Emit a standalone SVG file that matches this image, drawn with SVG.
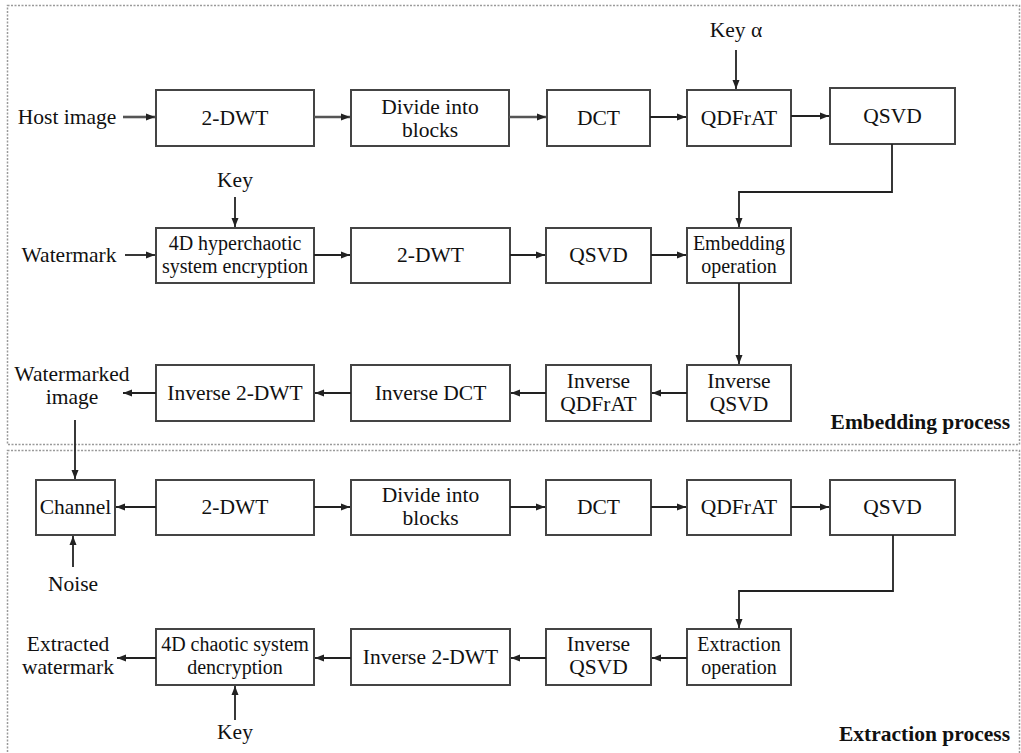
<svg xmlns="http://www.w3.org/2000/svg" width="1021" height="753" viewBox="0 0 1021 753">
<style>
.frame{fill:none;stroke:#9a9a9a;stroke-width:1.5;stroke-dasharray:2 1.5}
.box rect{fill:#fff;stroke:#444;stroke-width:2}
text{font-family:'Liberation Serif','Times New Roman','DejaVu Serif',serif;font-size:21.5px;fill:#111;text-anchor:middle}
.sm{font-size:20px}
.title{font-weight:bold;text-anchor:end}
.conn path{fill:none;stroke:#222;stroke-width:1.8}
.conn path.g{stroke:#555;stroke-width:2.6}
</style>
<defs>
<marker id="ah" markerUnits="userSpaceOnUse" markerWidth="9" markerHeight="8" refX="9" refY="4" orient="auto">
<path d="M0,0.5 L9,4 L0,7.5 z" fill="#222"/>
</marker>
</defs>
<rect class="frame" x="7.5" y="5.5" width="1012" height="439"/>
<rect class="frame" x="7.5" y="450.5" width="1012" height="320"/>

<g id="labels">
<text x="67" y="124">Host image</text>
<text x="69" y="262">Watermark</text>
<text x="736" y="37">Key α</text>
<text x="235" y="187">Key</text>
<text x="72" y="381">Watermarked</text>
<text x="72" y="404">image</text>
<text x="73" y="591">Noise</text>
<text x="68" y="651">Extracted</text>
<text x="68" y="674">watermark</text>
<text x="235" y="739">Key</text>
<text class="title" x="1010" y="429">Embedding process</text>
<text class="title" x="1010" y="741">Extraction process</text>
</g>

<g id="e-dwt" class="box"><rect x="156" y="90" width="158" height="56"/><text x="235" y="125">2-DWT</text></g>
<g id="e-divide" class="box"><rect x="351" y="90" width="158" height="56"/><text x="430" y="114">Divide into</text><text x="430" y="137">blocks</text></g>
<g id="e-dct" class="box"><rect x="547" y="90" width="103" height="56"/><text x="598.5" y="125">DCT</text></g>
<g id="e-qdfrat" class="box"><rect x="687" y="90" width="104" height="56"/><text x="739" y="125">QDFrAT</text></g>
<g id="e-qsvd" class="box"><rect x="830" y="88" width="125" height="56"/><text x="892.5" y="123">QSVD</text></g>

<g id="e-encrypt" class="box"><rect x="156" y="228" width="158" height="55"/><text class="sm" x="235" y="250">4D hyperchaotic</text><text class="sm" x="235" y="273">system encryption</text></g>
<g id="e-dwt2" class="box"><rect x="351" y="228" width="159" height="55"/><text x="430.5" y="262">2-DWT</text></g>
<g id="e-qsvd2" class="box"><rect x="546" y="228" width="105" height="55"/><text x="598.5" y="262">QSVD</text></g>
<g id="e-embed" class="box"><rect x="687" y="228" width="104" height="55"/><text class="sm" x="739" y="250">Embedding</text><text class="sm" x="739" y="273">operation</text></g>

<g id="e-idwt" class="box"><rect x="156" y="365" width="158" height="56"/><text x="235" y="400">Inverse 2-DWT</text></g>
<g id="e-idct" class="box"><rect x="351" y="365" width="159" height="56"/><text x="430.5" y="400">Inverse DCT</text></g>
<g id="e-iqdfrat" class="box"><rect x="546" y="365" width="105" height="56"/><text x="598.5" y="388">Inverse</text><text x="598.5" y="411">QDFrAT</text></g>
<g id="e-iqsvd" class="box"><rect x="687" y="365" width="104" height="56"/><text x="739" y="388">Inverse</text><text x="739" y="411">QSVD</text></g>

<g id="x-channel" class="box"><rect x="36" y="480" width="79" height="55"/><text x="75.5" y="514">Channel</text></g>
<g id="x-dwt" class="box"><rect x="156" y="480" width="158" height="55"/><text x="235" y="514">2-DWT</text></g>
<g id="x-divide" class="box"><rect x="351" y="480" width="159" height="55"/><text x="430.5" y="502">Divide into</text><text x="430.5" y="525">blocks</text></g>
<g id="x-dct" class="box"><rect x="546" y="480" width="105" height="55"/><text x="598.5" y="514">DCT</text></g>
<g id="x-qdfrat" class="box"><rect x="687" y="480" width="104" height="55"/><text x="739" y="514">QDFrAT</text></g>
<g id="x-qsvd" class="box"><rect x="830" y="480" width="125" height="55"/><text x="892.5" y="514">QSVD</text></g>

<g id="x-decrypt" class="box"><rect x="156" y="629" width="158" height="56"/><text class="sm" x="235" y="651">4D chaotic system</text><text class="sm" x="235" y="674">dencryption</text></g>
<g id="x-idwt" class="box"><rect x="351" y="629" width="159" height="56"/><text x="430.5" y="664">Inverse 2-DWT</text></g>
<g id="x-iqsvd" class="box"><rect x="546" y="629" width="105" height="56"/><text x="598.5" y="651">Inverse</text><text x="598.5" y="674">QSVD</text></g>
<g id="x-extract" class="box"><rect x="687" y="629" width="104" height="56"/><text class="sm" x="739" y="651">Extraction</text><text class="sm" x="739" y="674">operation</text></g>

<g id="connectors" class="conn">
<path class="g" d="M123,117 H155" marker-end="url(#ah)"/>
<path class="g" d="M314,117 H350" marker-end="url(#ah)"/>
<path class="g" d="M509,117 H546" marker-end="url(#ah)"/>
<path d="M650,117 H686" marker-end="url(#ah)"/>
<path d="M791,116 H829" marker-end="url(#ah)"/>
<path d="M736,50 V89" marker-end="url(#ah)"/>
<path d="M892,144 V192 H739 V227" marker-end="url(#ah)"/>

<path d="M125,255 H155" marker-end="url(#ah)"/>
<path d="M235,197 V227" marker-end="url(#ah)"/>
<path d="M314,255 H350" marker-end="url(#ah)"/>
<path d="M510,255 H545" marker-end="url(#ah)"/>
<path d="M651,255 H686" marker-end="url(#ah)"/>
<path d="M739,283 V364" marker-end="url(#ah)"/>

<path d="M687,393 H652" marker-end="url(#ah)"/>
<path d="M546,393 H511" marker-end="url(#ah)"/>
<path d="M351,393 H315" marker-end="url(#ah)"/>
<path d="M156,393 H123" marker-end="url(#ah)"/>
<path d="M75,420 V479" marker-end="url(#ah)"/>

<path d="M156,507 H116" marker-end="url(#ah)"/>
<path d="M73,567 V536" marker-end="url(#ah)"/>
<path d="M314,507 H350" marker-end="url(#ah)"/>
<path d="M510,507 H545" marker-end="url(#ah)"/>
<path d="M651,507 H686" marker-end="url(#ah)"/>
<path d="M791,507 H829" marker-end="url(#ah)"/>
<path d="M893,535 V591 H739 V628" marker-end="url(#ah)"/>

<path d="M687,658 H652" marker-end="url(#ah)"/>
<path d="M546,658 H511" marker-end="url(#ah)"/>
<path d="M351,658 H315" marker-end="url(#ah)"/>
<path d="M156,658 H117" marker-end="url(#ah)"/>
<path d="M235,720 V686" marker-end="url(#ah)"/>
</g>
</svg>
